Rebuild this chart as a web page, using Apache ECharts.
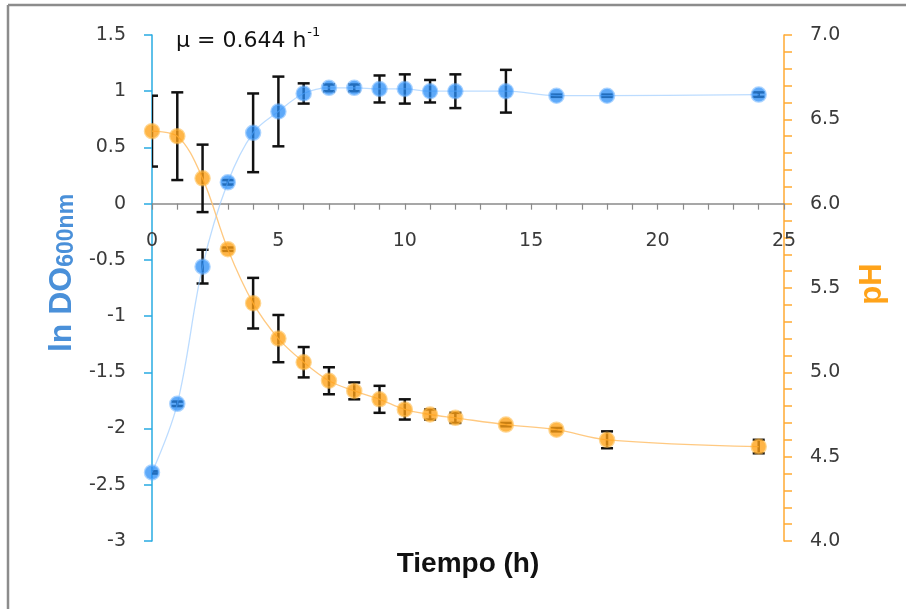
<!DOCTYPE html>
<html>
<head>
<meta charset="utf-8">
<script src="https://cdn.jsdelivr.net/npm/echarts@6/dist/echarts.min.js"></script>
<style>
  html, body { margin: 0; padding: 0; background: #fff; }
  #chart { width: 906px; height: 609px; }
</style>
</head>
<body>
<div id="chart"></div>
<script>
// Sampling times (h)
const hours = [0, 1, 2, 3, 4, 5, 6, 7, 8, 9, 10, 11, 12, 14, 16, 18, 24];
// Growth: ln of optical density at 600 nm, with standard deviation
const lnOD = [-2.39, -1.78, -0.56, 0.19, 0.63, 0.82, 0.98, 1.03, 1.03, 1.02, 1.02, 1.00, 1.00, 1.00, 0.96, 0.96, 0.97];
const lnODErr = [0.01, 0.02, 0.15, 0.02, 0.35, 0.31, 0.09, 0.03, 0.03, 0.12, 0.13, 0.10, 0.15, 0.19, 0.01, 0.01, 0.02];
// Culture pH, with standard deviation
const pH = [6.43, 6.40, 6.15, 5.73, 5.41, 5.20, 5.06, 4.95, 4.89, 4.84, 4.78, 4.75, 4.73, 4.69, 4.66, 4.60, 4.56];
const pHErr = [0.21, 0.26, 0.20, 0.01, 0.15, 0.14, 0.09, 0.08, 0.05, 0.08, 0.06, 0.03, 0.03, 0.01, 0.01, 0.05, 0.04];

const growthRate = '0.644';

// Axis ranges
const OD_MIN = -3, OD_MAX = 1.5;
const PH_MIN = 4, PH_MAX = 7;

const BLUE_AXIS = '#29ABE2';
const ORANGE_AXIS = '#FFAA33';
const LABEL_FONT = 'DejaVu Sans';

const GRID = { left: 152, right: 122, top: 35, bottom: 68 };
const CHART_H = 609;
const plotH = CHART_H - GRID.top - GRID.bottom;
// the time axis crosses the left axis at ln DO = 0
const xAxisOffset = -plotH * (0 - OD_MIN) / (OD_MAX - OD_MIN);

const pairs = (xs, ys) => xs.map((x, i) => [x, ys[i]]);
const triples = (xs, ys, es) => xs.map((x, i) => [x, ys[i], es[i]]);

function errorBar(params, api) {
  const x = api.value(0), y = api.value(1), e = api.value(2);
  const top = api.coord([x, y + e]);
  const bot = api.coord([x, y - e]);
  const half = 6;
  const style = { stroke: '#111', lineWidth: 2.5 };
  return {
    type: 'group',
    children: [
      { type: 'line', shape: { x1: top[0], y1: top[1], x2: bot[0], y2: bot[1] }, style },
      { type: 'line', shape: { x1: top[0] - half, y1: top[1], x2: top[0] + half, y2: top[1] }, style },
      { type: 'line', shape: { x1: bot[0] - half, y1: bot[1], x2: bot[0] + half, y2: bot[1] }, style }
    ]
  };
}

const chart = echarts.init(document.getElementById('chart'), null, { renderer: 'canvas' });

chart.setOption({
  animation: false,
  backgroundColor: '#fff',
  grid: GRID,
  xAxis: {
    type: 'value',
    min: 0, max: 25, interval: 5,
    offset: xAxisOffset,
    axisLine: { onZero: false, lineStyle: { color: '#8a8a8a', width: 1.5 } },
    axisTick: { show: true, length: 6, lineStyle: { color: '#8a8a8a', width: 1.2 } },
    minorTick: { show: true, splitNumber: 5, length: 6, lineStyle: { color: '#8a8a8a', width: 1.2 } },
    axisLabel: { margin: 28, color: '#3a3a3a', fontFamily: LABEL_FONT, fontSize: 19 },
    splitLine: { show: false }
  },
  yAxis: [
    {
      type: 'value', position: 'left',
      min: OD_MIN, max: OD_MAX, interval: 0.5,
      axisLine: { show: true, lineStyle: { color: BLUE_AXIS, width: 1.5 } },
      axisTick: { show: true, length: 8, lineStyle: { color: BLUE_AXIS, width: 1.5 } },
      axisLabel: { margin: 26, color: '#3a3a3a', fontFamily: LABEL_FONT, fontSize: 19 },
      splitLine: { show: false }
    },
    {
      type: 'value', position: 'right',
      min: PH_MIN, max: PH_MAX, interval: 0.5,
      axisLine: { show: true, lineStyle: { color: ORANGE_AXIS, width: 1.5 } },
      axisTick: { show: true, length: 8, lineStyle: { color: ORANGE_AXIS, width: 1.5 } },
      minorTick: { show: true, splitNumber: 5, length: 8, lineStyle: { color: ORANGE_AXIS, width: 1.5 } },
      axisLabel: {
        margin: 26, color: '#3a3a3a', fontFamily: LABEL_FONT, fontSize: 19,
        formatter: v => v.toFixed(1)
      },
      splitLine: { show: false }
    }
  ],
  series: [
    {
      name: 'ln DO600nm err', type: 'custom', yAxisIndex: 0, z: 3, clip: true,
      renderItem: errorBar, data: triples(hours, lnOD, lnODErr)
    },
    {
      name: 'pH err', type: 'custom', yAxisIndex: 1, z: 3, clip: true,
      renderItem: errorBar, data: triples(hours, pH, pHErr)
    },
    {
      name: 'ln DO600nm', type: 'line', yAxisIndex: 0, z: 4,
      smooth: 0.35,
      data: pairs(hours, lnOD),
      symbol: 'circle', symbolSize: 14,
      lineStyle: { color: 'rgba(160,205,255,0.7)', width: 1.3 },
      itemStyle: { color: 'rgba(40,140,245,0.75)', borderColor: 'rgba(100,175,255,0.55)', borderWidth: 2.5 }
    },
    {
      name: 'pH', type: 'line', yAxisIndex: 1, z: 4,
      smooth: 0.35,
      data: pairs(hours, pH),
      symbol: 'circle', symbolSize: 14,
      lineStyle: { color: 'rgba(255,195,115,0.9)', width: 1.3 },
      itemStyle: { color: 'rgba(255,160,20,0.78)', borderColor: 'rgba(255,185,70,0.6)', borderWidth: 2.5 }
    }
  ],
  graphic: [
    // outer frame (top and left edges)
    { type: 'line', shape: { x1: 8, y1: 5, x2: 906, y2: 5 }, style: { stroke: '#8c8c8c', lineWidth: 2.5 }, z: 10 },
    { type: 'line', shape: { x1: 8, y1: 5, x2: 8, y2: 609 }, style: { stroke: '#8c8c8c', lineWidth: 2.5 }, z: 10 },
    // growth rate annotation
    {
      type: 'text', left: 176, top: 26, z: 10,
      style: {
        text: '{b|μ = ' + growthRate + ' h}{s|-1}',
        rich: {
          b: { fontFamily: LABEL_FONT, fontSize: 22, fill: '#111', verticalAlign: 'bottom', lineHeight: 26 },
          s: { fontFamily: LABEL_FONT, fontSize: 13, fill: '#111', verticalAlign: 'top', padding: [0, 0, 12, 1], lineHeight: 26 }
        }
      }
    },
    // x axis title
    {
      type: 'text', x: 468, y: 564, z: 10,
      style: {
        text: 'Tiempo (h)', fontFamily: 'Liberation Sans', fontWeight: 'bold', fontSize: 28,
        fill: '#111', align: 'center', verticalAlign: 'middle'
      }
    },
    // left axis title
    {
      type: 'text', x: 60, y: 273, rotation: Math.PI / 2, z: 10,
      style: {
        text: '{m|ln DO}{s|600nm}',
        align: 'center', verticalAlign: 'middle',
        rich: {
          m: { fontFamily: 'Liberation Sans', fontWeight: 'bold', fontSize: 32, fill: '#4A90D9', verticalAlign: 'bottom', lineHeight: 36 },
          s: { fontFamily: 'Liberation Sans', fontWeight: 'bold', fontSize: 23, fill: '#4A90D9', verticalAlign: 'bottom', lineHeight: 36 }
        }
      }
    },
    // right axis title
    {
      type: 'text', x: 872, y: 284, rotation: Math.PI / 2, z: 10,
      style: {
        text: 'pH', fontFamily: 'Liberation Sans', fontWeight: 'bold', fontSize: 31,
        fill: '#FFA31A', align: 'center', verticalAlign: 'middle'
      }
    }
  ]
});
</script>
</body>
</html>
